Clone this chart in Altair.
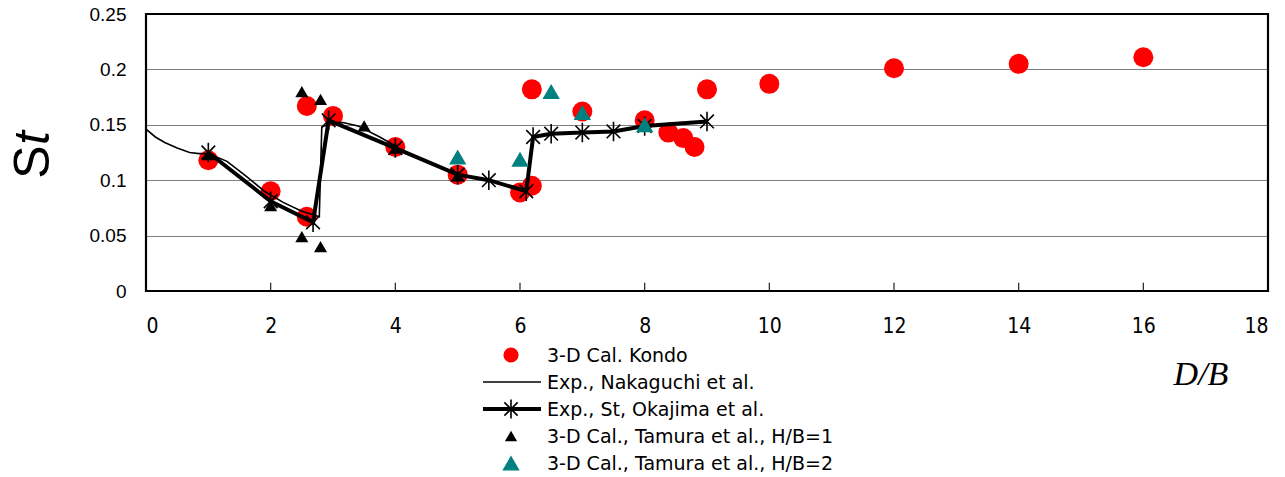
import altair as alt
import pandas as pd

# ---- data ----
kondo_x = [1.0, 2.0, 2.58, 2.58, 3.0, 4.0, 5.0, 6.0, 6.19, 6.19, 7.0, 8.0, 8.38, 8.62, 8.8, 9.0, 10.0, 12.0, 14.0, 16.0]
kondo_y = [0.118, 0.090, 0.167, 0.067, 0.158, 0.130, 0.105, 0.089, 0.095, 0.182, 0.162, 0.154, 0.143, 0.138, 0.130, 0.182, 0.187, 0.201, 0.205, 0.211]

nakaguchi_x = [0.0, 0.15, 0.3, 0.5, 0.7, 0.85, 1.0, 1.3, 1.6, 1.9, 2.2, 2.5, 2.78, 2.82, 3.0, 3.16, 3.4, 3.75, 4.0]
nakaguchi_y = [0.146, 0.139, 0.134, 0.129, 0.125, 0.124, 0.124, 0.117, 0.104, 0.090, 0.080, 0.072, 0.067, 0.148, 0.152, 0.152, 0.149, 0.139, 0.131]

okajima_x = [1.0, 2.0, 2.68, 2.93, 4.0, 5.0, 5.5, 6.1, 6.21, 6.5, 7.0, 7.5, 8.0, 9.0]
okajima_y = [0.125, 0.081, 0.062, 0.154, 0.129, 0.105, 0.100, 0.090, 0.139, 0.142, 0.143, 0.144, 0.149, 0.153]

tamura1_x = [1.0, 2.0, 2.5, 2.5, 2.8, 2.8, 3.5, 4.0, 5.0]
tamura1_y = [0.123, 0.077, 0.049, 0.180, 0.040, 0.173, 0.149, 0.129, 0.104]

tamura2_x = [5.0, 6.0, 6.5, 7.0, 8.0]
tamura2_y = [0.121, 0.119, 0.180, 0.161, 0.150]

x_ticks = [0, 2, 4, 6, 8, 10, 12, 14, 16, 18]
y_ticks = [0, 0.05, 0.1, 0.15, 0.2, 0.25]
inner_ticks = [2, 4, 6, 8, 10, 12, 14, 16]

legend_labels = [
    "3-D Cal. Kondo",
    "Exp., Nakaguchi et al.",
    "Exp., St, Okajima et al.",
    "3-D Cal., Tamura et al., H/B=1",
    "3-D Cal., Tamura et al., H/B=2",
]

W, H = 1122, 277
ASTER = "M-0.7,-0.7L0.7,0.7M-0.7,0.7L0.7,-0.7M0,-1L0,1"

xs = alt.Scale(domain=[0, 18], nice=False, zero=False)
ys = alt.Scale(domain=[0, 0.25], nice=False, zero=False)

kondo = pd.DataFrame({"x": kondo_x, "y": kondo_y})
naka = pd.DataFrame({"x": nakaguchi_x, "y": nakaguchi_y, "o": range(len(nakaguchi_x))})
oka = pd.DataFrame({"x": okajima_x, "y": okajima_y, "o": range(len(okajima_x))})
t1 = pd.DataFrame({"x": tamura1_x, "y": tamura1_y})
t2 = pd.DataFrame({"x": tamura2_x, "y": tamura2_y})
ticks = pd.DataFrame({"x": inner_ticks, "y": [0.0] * len(inner_ticks), "y2": [0.0075] * len(inner_ticks)})

X = alt.X("x:Q", scale=xs, axis=alt.Axis(values=x_ticks, grid=False, ticks=False, domain=False, format="d",
                                            labelFont="Liberation Sans Narrow, DejaVu Sans Condensed", labelFontSize=21,
                                            labelPadding=24, labelColor="black", title=None))
Y = alt.Y("y:Q", scale=ys, axis=alt.Axis(values=y_ticks, grid=True, gridColor="#808080", gridWidth=1,
                                            gridOpacity=1, ticks=False, domain=False, format=".2~f",
                                            labelFont="Liberation Sans", labelFontSize=19,
                                            labelPadding=20, labelColor="black", title=None))
Xn = alt.X("x:Q", scale=xs)
Yn = alt.Y("y:Q", scale=ys)

one = pd.DataFrame({"a": [0]})

frame = alt.Chart(one).mark_rect(filled=False, stroke="black", strokeWidth=2.2).encode(
    x=alt.value(0), x2=alt.value(W), y=alt.value(0), y2=alt.value(H))
base_k = alt.Chart(kondo).mark_point(shape="circle", filled=True, color="#FF0000", size=400, opacity=1).encode(x=X, y=Y)
naka_l = alt.Chart(naka).mark_line(color="black", strokeWidth=1.6).encode(x=Xn, y=Yn, order="o:Q")
oka_l = alt.Chart(oka).mark_line(color="black", strokeWidth=4).encode(x=Xn, y=Yn, order="o:Q")
oka_p = alt.Chart(oka).mark_point(shape=ASTER, filled=False, color="black", strokeWidth=1.6, size=380, opacity=1).encode(x=Xn, y=Yn)
t1_p = alt.Chart(t1).mark_point(shape="triangle-up", filled=True, color="black", size=170, opacity=1).encode(x=Xn, y=Yn)
t2_p = alt.Chart(t2).mark_point(shape="triangle-up", filled=True, color="#008080", size=300, opacity=1).encode(x=Xn, y=Yn)
tk = alt.Chart(ticks).mark_rule(color="#202020", strokeWidth=1.2).encode(x=Xn, y=Yn, y2="y2:Q")

LX, TX = 365, 401
rows = [341, 368, 395, 422, 449]
leg_c = alt.Chart(one).mark_point(shape="circle", filled=True, color="#FF0000", size=230, opacity=1).encode(x=alt.value(LX), y=alt.value(rows[0]))
leg_l1 = alt.Chart(one).mark_rule(color="black", strokeWidth=1.6).encode(x=alt.value(337), x2=alt.value(395), y=alt.value(rows[1]))
leg_l2 = alt.Chart(one).mark_rule(color="black", strokeWidth=4).encode(x=alt.value(337), x2=alt.value(395), y=alt.value(rows[2]))
leg_a = alt.Chart(one).mark_point(shape=ASTER, filled=False, color="black", strokeWidth=1.6, size=360, opacity=1).encode(x=alt.value(LX), y=alt.value(rows[2]))
leg_t1 = alt.Chart(one).mark_point(shape="triangle-up", filled=True, color="black", size=150, opacity=1).encode(x=alt.value(LX), y=alt.value(rows[3]))
leg_t2 = alt.Chart(one).mark_point(shape="triangle-up", filled=True, color="#008080", size=300, opacity=1).encode(x=alt.value(LX), y=alt.value(rows[4]))
leg_df = pd.DataFrame({"label": legend_labels, "py": [r + 1 for r in rows]})
leg_txt = alt.Chart(leg_df).mark_text(align="left", baseline="middle", font="DejaVu Sans",
                                      fontSize=19, color="black").encode(
    x=alt.value(TX), y=alt.Y("py:Q", scale=None), text="label:N")

s_txt = alt.Chart(one).mark_text(text="S", angle=270, align="center", baseline="middle",
                                 font="Liberation Sans", fontSize=50, color="black").encode(x=alt.value(-112), y=alt.value(148))
t_txt = alt.Chart(one).mark_text(text="t", angle=270, align="center", baseline="middle", fontStyle="italic",
                                 font="Liberation Sans", fontSize=50, color="black").encode(x=alt.value(-112), y=alt.value(124))
db_txt = alt.Chart(one).mark_text(text="D/B", align="center", baseline="middle", fontStyle="italic",
                                  font="Liberation Serif", fontSize=34, color="black").encode(x=alt.value(1055), y=alt.value(361))

chart = alt.layer(
    base_k, naka_l, oka_l, oka_p, t1_p, t2_p, frame, tk,
    leg_c, leg_l1, leg_l2, leg_a, leg_t1, leg_t2, leg_txt, s_txt, t_txt, db_txt,
).properties(
    width=W, height=H,
    autosize=alt.AutoSizeParams(type="none"),
    padding={"left": 146, "top": 14, "right": 17, "bottom": 186},
).configure_view(
    stroke=None
).configure(background="white")

chart.save("out.html", embed_options={"renderer": "svg", "actions": False})
